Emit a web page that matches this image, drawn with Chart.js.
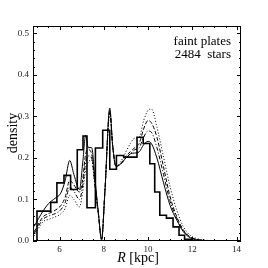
<!DOCTYPE html>
<html>
<head>
<meta charset="utf-8">
<script src="https://cdn.jsdelivr.net/npm/chart.js@4.4.1/dist/chart.umd.min.js"></script>
<style>
html, body { margin: 0; padding: 0; background: #fff; }
canvas { display: block; }
</style>
</head>
<body>
<canvas id="myChart" width="268" height="268"></canvas>
<script>
// tick labels
const xTicks = [6, 8, 10, 12, 14];
const yTicks = [0.0, 0.1, 0.2, 0.3, 0.4, 0.5];

// histogram (bin edges + heights)
const histEdges = [4.98, 5.28, 5.6, 5.88, 6.2, 6.5, 6.8, 7.06, 7.24, 7.62, 7.95, 8.27, 8.57, 8.9, 9.25, 9.5, 9.78, 10.08, 10.3, 10.53, 10.83, 11.13, 11.4, 11.65, 11.95, 12.3];
const histValues = [0.015, 0.072, 0.072, 0.093, 0.14, 0.158, 0.124, 0.22, 0.253, 0.08, 0.224, 0.267, 0.173, 0.206, 0.202, 0.202, 0.25, 0.235, 0.186, 0.118, 0.062, 0.055, 0.034, 0.014, 0.004];

// smooth density curves
const curveR = [4.85, 5.25, 5.5, 5.8, 6.05, 6.25, 6.46, 6.65, 6.9, 7.05, 7.18, 7.3, 7.45, 7.6, 7.75, 7.9, 8.05, 8.27, 8.4, 8.55, 8.75, 9.0, 9.2, 9.4, 9.6, 9.8, 10.0, 10.15, 10.4, 10.7, 11.0, 11.3, 11.6, 11.9, 12.2, 12.6, 13.2, 14.0];
const solidValues = [0.035, 0.072, 0.09, 0.103, 0.115, 0.145, 0.194, 0.16, 0.124, 0.19, 0.255, 0.225, 0.225, 0.15, 0.07, 0.002, 0.12, 0.32, 0.23, 0.18, 0.185, 0.2, 0.21, 0.212, 0.215, 0.232, 0.24, 0.235, 0.2, 0.14, 0.085, 0.05, 0.022, 0.008, 0.003, 0.001, 0, 0];
const dashDotValues = [0.018, 0.052, 0.06, 0.066, 0.075, 0.092, 0.13, 0.12, 0.1, 0.135, 0.19, 0.205, 0.2, 0.135, 0.068, 0.005, 0.12, 0.31, 0.23, 0.18, 0.185, 0.2, 0.21, 0.22, 0.225, 0.25, 0.265, 0.262, 0.225, 0.16, 0.095, 0.054, 0.024, 0.009, 0.003, 0.001, 0, 0];
const dashedValues = [0.022, 0.058, 0.066, 0.074, 0.085, 0.105, 0.146, 0.135, 0.118, 0.15, 0.21, 0.22, 0.21, 0.14, 0.07, 0.005, 0.12, 0.315, 0.23, 0.18, 0.185, 0.205, 0.215, 0.225, 0.235, 0.27, 0.29, 0.285, 0.25, 0.178, 0.106, 0.058, 0.026, 0.01, 0.004, 0.001, 0, 0];
const dottedValues = [0.012, 0.046, 0.052, 0.058, 0.065, 0.078, 0.11, 0.1, 0.082, 0.12, 0.17, 0.19, 0.195, 0.13, 0.065, 0.005, 0.12, 0.31, 0.23, 0.18, 0.19, 0.215, 0.235, 0.248, 0.25, 0.29, 0.315, 0.318, 0.275, 0.202, 0.13, 0.074, 0.034, 0.014, 0.006, 0.002, 0.0005, 0];

const serif = "'Liberation Serif', 'DejaVu Serif', serif";

function histPoints() {
    const pts = [{x: histEdges[0], y: 0}];
    for (let i = 0; i < histValues.length; i++) {
        pts.push({x: histEdges[i], y: histValues[i]});
    }
    pts.push({x: histEdges[histEdges.length - 1], y: 0});
    return pts;
}

function curve(vals) {
    return curveR.map((r, i) => ({x: r, y: vals[i]}));
}

function lineSet(label, vals, dash) {
    return {
        label: label,
        data: curve(vals),
        borderColor: '#000',
        borderWidth: 1,
        borderDash: dash,
        pointRadius: 0,
        fill: false,
        cubicInterpolationMode: 'monotone'
    };
}

const frame = {
    id: 'frame',
    afterDraw(chart) {
        const ctx = chart.ctx;
        const a = chart.chartArea;
        const xs = chart.scales.x, ys = chart.scales.y;
        ctx.save();
        ctx.strokeStyle = '#000';
        ctx.lineWidth = 1;
        ctx.strokeRect(a.left + 0.5, a.top + 0.5, a.right - a.left - 1, a.bottom - a.top - 1);

        ctx.beginPath();
        // x ticks, inward on bottom and top
        for (let v = 5; v <= 14.001; v += 0.5) {
            const px = Math.round(xs.getPixelForValue(v)) + 0.5;
            const len = (Math.abs(v % 2) < 0.001) ? 4 : 2;
            ctx.moveTo(px, a.bottom); ctx.lineTo(px, a.bottom - len);
            ctx.moveTo(px, a.top); ctx.lineTo(px, a.top + len);
        }
        // y ticks, inward on left and right
        for (let i = 0; i <= 25; i++) {
            const v = i * 0.02;
            const py = Math.round(ys.getPixelForValue(v)) + 0.5;
            const len = (i % 5 === 0) ? 4 : 2;
            ctx.moveTo(a.left, py); ctx.lineTo(a.left + len, py);
            ctx.moveTo(a.right, py); ctx.lineTo(a.right - len, py);
        }
        ctx.stroke();

        // annotation
        ctx.fillStyle = '#000';
        ctx.font = '13px ' + serif;
        ctx.textAlign = 'right';
        ctx.textBaseline = 'middle';
        ctx.fillText('faint plates', 231, 42);
        ctx.fillText('2484  stars', 231, 55);

        // y title
        ctx.save();
        ctx.translate(13, 133);
        ctx.rotate(-Math.PI / 2);
        ctx.textAlign = 'center';
        ctx.font = '14px ' + serif;
        ctx.fillText('density', 0, 0);
        ctx.restore();

        // x title, italic R
        ctx.textAlign = 'left';
        ctx.font = 'italic 14px ' + serif;
        const w1 = ctx.measureText('R').width;
        ctx.font = '14px ' + serif;
        const w2 = ctx.measureText(' [kpc]').width;
        const x0 = 138 - (w1 + w2) / 2;
        ctx.font = 'italic 14px ' + serif;
        ctx.fillText('R', x0, 258);
        ctx.font = '14px ' + serif;
        ctx.fillText(' [kpc]', x0 + w1, 258);
        ctx.restore();
    }
};

const ctx = document.getElementById('myChart').getContext('2d');
const myChart = new Chart(ctx, {
    type: 'line',
    data: {
        datasets: [
            {
                label: 'histogram',
                data: histPoints(),
                borderColor: '#000',
                borderWidth: 1.6,
                pointRadius: 0,
                fill: false,
                stepped: 'after'
            },
            lineSet('solid', solidValues, []),
            lineSet('dash-dot', dashDotValues, [4, 2, 1, 2]),
            lineSet('dashed', dashedValues, [4, 2]),
            lineSet('dotted', dottedValues, [1, 2])
        ]
    },
    options: {
        responsive: false,
        animation: false,
        layout: { padding: { top: 26, right: 27, left: 0, bottom: 0 } },
        plugins: { legend: { display: false }, tooltip: { enabled: false } },
        scales: {
            x: {
                type: 'linear',
                min: 4.8,
                max: 14.2,
                grid: { display: false, drawTicks: false },
                border: { display: false },
                afterBuildTicks: s => { s.ticks = xTicks.map(v => ({ value: v })); },
                afterFit: s => { s.height = 27; },
                ticks: {
                    font: { family: serif, size: 9 },
                    color: '#222',
                    padding: 3,
                    maxRotation: 0,
                    autoSkip: false,
                    callback: v => String(v)
                }
            },
            y: {
                type: 'linear',
                min: 0,
                max: 0.518,
                grid: { display: false, drawTicks: false },
                border: { display: false },
                afterBuildTicks: s => { s.ticks = yTicks.map(v => ({ value: v })); },
                afterFit: s => { s.width = 33; },
                ticks: {
                    font: { family: serif, size: 9 },
                    color: '#222',
                    padding: 4,
                    autoSkip: false,
                    callback: v => v.toFixed(1)
                }
            }
        }
    },
    plugins: [frame]
});
</script>
</body>
</html>
